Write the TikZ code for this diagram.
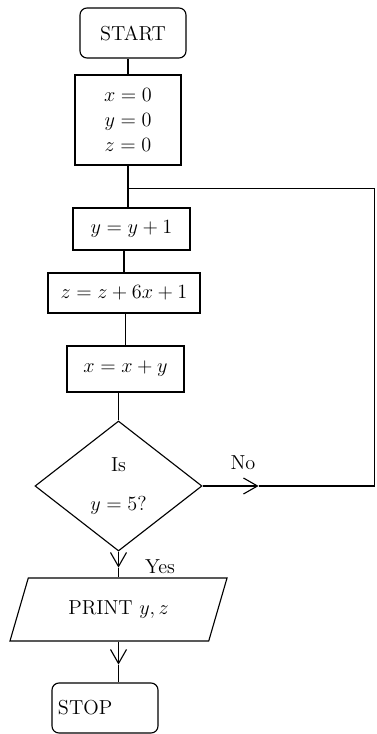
\documentclass[tikz,border=0pt]{standalone}
\usepackage{amsmath}
\usetikzlibrary{arrows.meta,positioning,calc,shapes.geometric}

\begin{document}
\begin{tikzpicture}[x=0.025cm, y=-0.025cm, line width=0.8pt,
    font=\Large,
    >={Straight Barb[length=3.5mm,width=4mm]},
    terminal/.style={draw, rounded corners=5pt, minimum width=2.65cm, minimum height=1.25cm},
    process/.style={draw, minimum height=1.05cm, inner sep=2pt},
    decision/.style={draw, diamond, align=center, inner sep=0pt,
      minimum width=4.175cm, minimum height=3.25cm},
    io/.style={draw, trapezium, trapezium left angle=56, trapezium right angle=124,
      trapezium stretches body, minimum width=5.425cm, minimum height=1.575cm}]
    \useasboundingbox (0,0) rectangle (376,734);

    % start and initial values
    \node[terminal] (start) at (133,33) {START};
    \node[draw, align=center, minimum width=2.65cm, minimum height=2.25cm] (init) at (128,120)
      {$x = 0$\\ $y = 0$\\ $z = 0$};

    % loop body
    \node[process, minimum width=2.925cm] (incy) at (131.5,229) {$y = y + 1$};
    \node[process, minimum width=3.8cm, minimum height=1.0cm] (incz) at (124,293) {$z = z + 6x + 1$};
    \node[process, minimum width=2.925cm, minimum height=1.15cm] (incx) at (125.5,369) {$x = x + y$};

    % test
    \node[decision] (dec) at (118.5,486) {Is\\[10pt] $y = 5?$};
    \node (nolbl) at (243,463) {No};
    \node (yeslbl) at (160,567) {Yes};

    % output and stop
    \node[io] (print) at (118.5,609.5) {PRINT $y, z$};
    \node[terminal, text width=2.35cm, align=left, inner xsep=3pt] (stop) at (105,708) {STOP};

    \coordinate (j) at ($(init.south)+(0,23)$);
    \coordinate (noarr) at ($(dec.east)+(56,0)$);
    \coordinate (r) at ($(dec.east)+(172,0)$);
    \coordinate (yarr) at ($(dec.south)+(0,16)$);
    \coordinate (parr) at ($(print.south)+(0,23)$);

    % connectors
    \draw (init.north) -- (init.north |- start.south);
    \draw (init.south) -- (j) -- (j |- incy.north);
    \draw (incz.north) -- (incz.north |- incy.south);
    \draw (incx.north) -- (incx.north |- incz.south);
    \draw (dec.north) -- (dec.north |- incx.south);

    % No branch back to the loop
    \draw[->] (dec.east) -- (noarr);
    \draw (noarr) -- (r) -- (j -| r) -- (j);

    % Yes branch
    \draw[->] (dec.south) -- (yarr);
    \draw (yarr) -- (yarr |- print.north);
    \draw[->] (print.south) -- (parr);
    \draw (parr) -- (parr |- stop.north);
\end{tikzpicture}
\end{document}
